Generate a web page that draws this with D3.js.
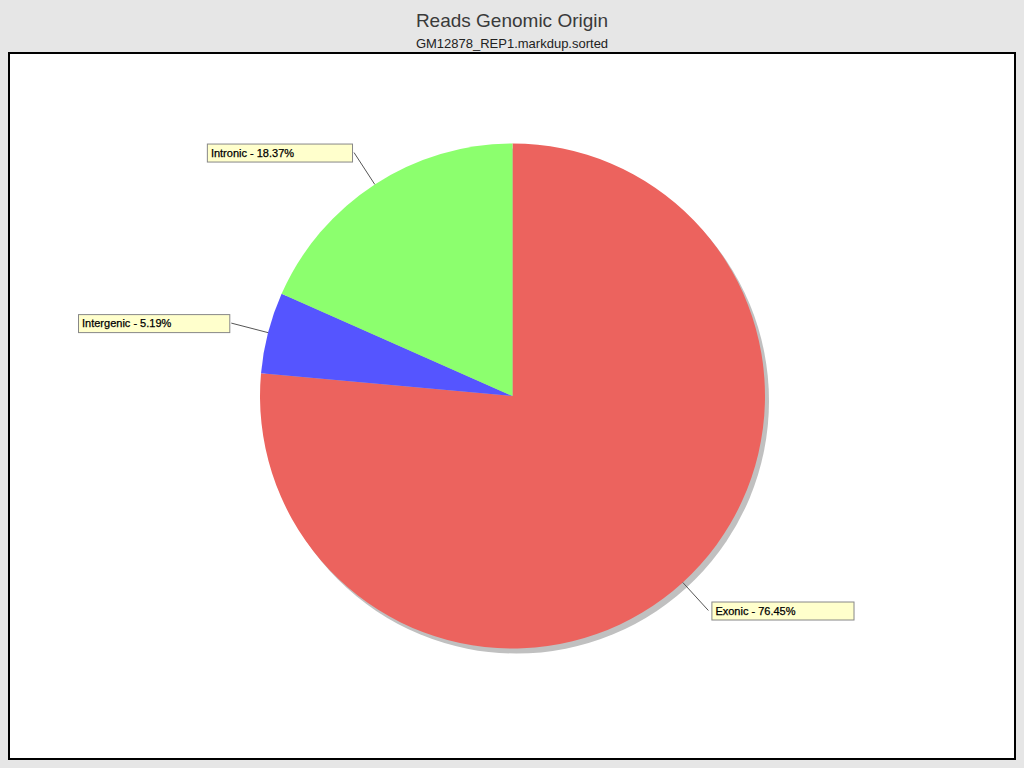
<!DOCTYPE html>
<html>
<head>
<meta charset="utf-8">
<script src="https://cdn.jsdelivr.net/npm/d3@7"></script>
<style>
  html, body { margin: 0; padding: 0; background: #e6e6e6; }
  svg { display: block; }
</style>
</head>
<body>
<div id="wrapper"></div>
<script>
const categories = ["Exonic", "Intergenic", "Intronic"];
const percents = [76.45, 5.19, 18.37];
const sliceColors = ["#ec635e", "#5555ff", "#8cff6e"];

const chartTitle = "Reads Genomic Origin";
const chartSubtitle = "GM12878_REP1.markdup.sorted";

function drawPie() {

    const data = categories.map((c, i) => ({ name: c, value: percents[i], color: sliceColors[i] }));

    // dimensions
    const dms = {
        width: 1024,
        height: 768,
        frame: { left: 9, top: 53, right: 1015, bottom: 759 },
        cx: 512.5,
        cy: 396,
        radius: 252.5
    };

    const svg = d3.select("#wrapper")
        .append("svg")
            .attr("width", dms.width)
            .attr("height", dms.height);

    svg.append("rect")
        .attr("width", dms.width)
        .attr("height", dms.height)
        .attr("fill", "#e6e6e6");

    // titles
    svg.append("text")
        .attr("x", dms.width / 2)
        .attr("y", 27)
        .attr("text-anchor", "middle")
        .attr("fill", "#3a3a3a")
        .style("font-family", "'Liberation Sans', Arial, sans-serif")
        .style("font-size", "19px")
        .text(chartTitle);

    svg.append("text")
        .attr("x", dms.width / 2)
        .attr("y", 48)
        .attr("text-anchor", "middle")
        .attr("fill", "#222")
        .style("font-family", "'Liberation Sans', Arial, sans-serif")
        .style("font-size", "13px")
        .text(chartSubtitle);

    // plot frame
    svg.append("rect")
        .attr("x", dms.frame.left)
        .attr("y", dms.frame.top)
        .attr("width", dms.frame.right - dms.frame.left)
        .attr("height", dms.frame.bottom - dms.frame.top)
        .attr("fill", "#fff")
        .attr("stroke", "#000")
        .attr("stroke-width", 2);

    const inner = svg.append("g")
        .attr("transform", `translate(${dms.cx},${dms.cy})`);

    const pie = d3.pie()
        .value(d => d.value)
        .sort(null);

    const arcs = pie(data);

    const arcGen = d3.arc()
        .innerRadius(0)
        .outerRadius(dms.radius);

    // shadow
    inner.append("circle")
        .attr("cx", 4)
        .attr("cy", 5)
        .attr("r", dms.radius)
        .attr("fill", "#c0c0c0");

    inner.append("g")
        .selectAll("path")
        .data(arcs)
        .join("path")
            .attr("d", arcGen)
            .attr("fill", d => d.data.color);

    // labels
    const edgeArc = d3.arc().innerRadius(dms.radius).outerRadius(dms.radius);
    const outArc = d3.arc().innerRadius(dms.radius + 38).outerRadius(dms.radius + 38);

    const labels = inner.append("g")
        .selectAll("g")
        .data(arcs)
        .join("g");

    labels.append("line")
        .attr("x1", d => edgeArc.centroid(d)[0])
        .attr("y1", d => edgeArc.centroid(d)[1])
        .attr("x2", d => outArc.centroid(d)[0])
        .attr("y2", d => outArc.centroid(d)[1])
        .attr("stroke", "#555")
        .attr("stroke-width", 1);

    const boxH = 18;
    labels.each(function(d) {
        const g = d3.select(this);
        const [ex, ey] = outArc.centroid(d);
        const right = ex > 0;
        const text = g.append("text")
            .attr("fill", "#000")
            .style("font-family", "'Liberation Sans', Arial, sans-serif")
            .style("font-size", "11px")
            .style("stroke", "#000")
            .style("stroke-width", 0.25)
            .text(`${d.data.name} - ${d.data.value.toFixed(2)}%`);
        const tw = text.node().getComputedTextLength();
        const bw = tw + 62;
        const bx = right ? ex + 3 : ex - 2 - bw;
        const by = ey - boxH / 2;
        g.insert("rect", "text")
            .attr("x", bx + 0.5)
            .attr("y", by + 0.5)
            .attr("width", bw)
            .attr("height", boxH)
            .attr("fill", "#ffffcc")
            .attr("stroke", "#888")
            .attr("stroke-width", 1);
        text.attr("x", bx + 4)
            .attr("y", by + 13);
    });
}

drawPie();
</script>
</body>
</html>
